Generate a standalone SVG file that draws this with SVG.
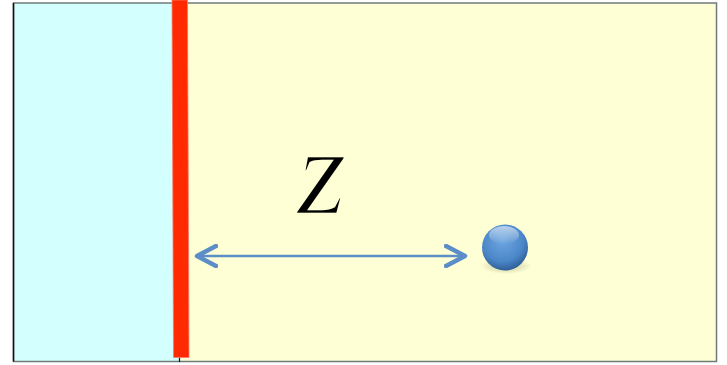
<svg xmlns="http://www.w3.org/2000/svg" width="727" height="365" viewBox="0 0 727 365">
<defs>
<radialGradient id="ball" cx="0.45" cy="0.35" r="0.65">
<stop offset="0" stop-color="#6fa6e0"/>
<stop offset="0.7" stop-color="#4a86c8"/>
<stop offset="1" stop-color="#2f5f97"/>
</radialGradient>
<radialGradient id="shadow" cx="0.5" cy="0.5" r="0.5">
<stop offset="0" stop-color="#8a8a60" stop-opacity="0.5"/>
<stop offset="1" stop-color="#8a8a60" stop-opacity="0"/>
</radialGradient>
<linearGradient id="hl" x1="0" y1="0" x2="0" y2="1">
<stop offset="0" stop-color="#ffffff" stop-opacity="0.6"/>
<stop offset="1" stop-color="#ffffff" stop-opacity="0"/>
</linearGradient>
<marker id="head" viewBox="0 0 24 24" refX="21" refY="12" markerWidth="24" markerHeight="24" markerUnits="userSpaceOnUse" orient="auto-start-reverse">
<path d="M2,2 L21,12 L2,22" fill="none" stroke="#5b8dc8" stroke-width="4.5" stroke-linecap="round" stroke-linejoin="round"/>
</marker>
<style>
.frame{stroke:#6f7b78;stroke-width:1.5}
</style>
</defs>
<rect x="0" y="0" width="727" height="365" fill="#ffffff"/>
<g id="region-left">
<rect x="13.5" y="3" width="166" height="358.5" fill="#d3ffff"/>
</g>
<g id="region-right">
<rect x="179.5" y="3" width="537" height="358.5" fill="#ffffd6"/>
</g>
<rect class="frame" x="13.5" y="3" width="703" height="358.5" fill="none"/>
<line x1="13.5" y1="3" x2="13.5" y2="361.5" stroke="#111" stroke-width="1.5"/>
<line x1="179.5" y1="355" x2="179.5" y2="362" stroke="#111" stroke-width="1.2"/>
<g id="wall">
<polygon points="172,0 187.5,0 189,357.5 173.5,357.5" fill="#ff2a00" stroke="#ff7a6a" stroke-width="0.8"/>
</g>
<g id="particle">
<ellipse cx="506" cy="266" rx="26" ry="8" fill="url(#shadow)"/>
<circle cx="505" cy="247.5" r="23" fill="url(#ball)"/>
<ellipse cx="504" cy="235" rx="15" ry="9" fill="url(#hl)"/>
</g>
<g id="connectors">
<line x1="197" y1="256" x2="465" y2="256" stroke="#5b8dc8" stroke-width="2.5" marker-start="url(#head)" marker-end="url(#head)"/>
</g>
<g id="label">
<text x="297" y="214" font-family="Liberation Serif, serif" font-style="italic" font-size="128" fill="#000" stroke="#ffffd6" stroke-width="2.5" paint-order="stroke" style="paint-order:normal">z</text>
</g>
</svg>
